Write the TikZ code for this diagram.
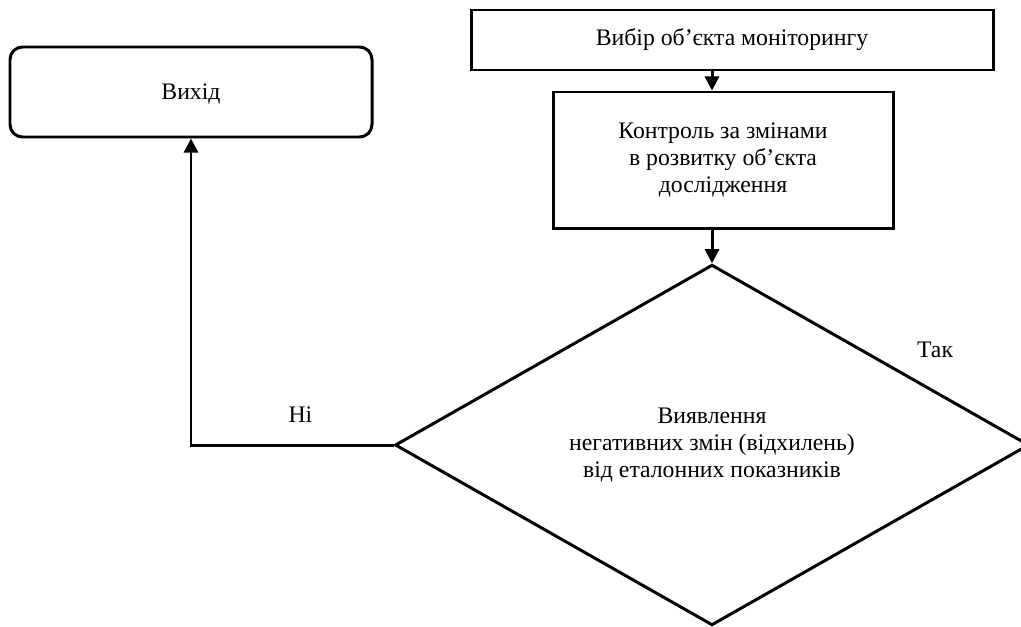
\documentclass[tikz,border=0pt]{standalone}
\usepackage{fontspec}
\setmainfont{Liberation Serif}
\usepackage{tikz}
\usetikzlibrary{positioning,shapes.geometric,arrows.meta}

\begin{document}
\begin{tikzpicture}[>={Triangle[width=8pt,length=8pt]}, line width=1.7pt]
\tikzstyle{blok} = [draw, rectangle, align=center, font=\fontsize{13.5}{15.6}\selectfont]
\tikzstyle{umova} = [draw, diamond, align=center, inner sep=0pt, font=\fontsize{13.5}{15.6}\selectfont]
\tikzstyle{napys} = [font=\fontsize{13.5}{15.6}\selectfont]

\useasboundingbox (0,0) rectangle (20.42,-12.52);

\node[blok, minimum width=10.44cm, minimum height=1.2cm] (vybir) at (14.64,-0.8) {Вибір об’єкта моніторингу};
\node[blok, minimum width=6.8cm, minimum height=2.72cm] (kontrol) at (14.46,-3.2) {Контроль за змінами\\в розвитку об’єкта\\дослідження};
\node[umova, minimum width=12.68cm, minimum height=7.2cm] (vyiavl) at (14.24,-8.9) {Виявлення\\негативних змін (відхилень)\\від еталонних показників};
\node[blok, rounded corners=0.25cm, minimum width=7.24cm, minimum height=1.8cm, text depth=-0.2cm] (vykhid) at (3.82,-1.84) {Вихід};

\node[napys] (tak) at (18.7,-7.0) {Так};

\draw[->] (vybir.south -| vyiavl.north) -- (kontrol.north -| vyiavl.north);
\draw[->] (kontrol.south -| vyiavl.north) -- (vyiavl.north);
\draw[->] (vyiavl.west) -| node[napys, pos=0.23, above=0.3cm] (ni) {Ні} (vykhid.south);
\end{tikzpicture}
\end{document}
